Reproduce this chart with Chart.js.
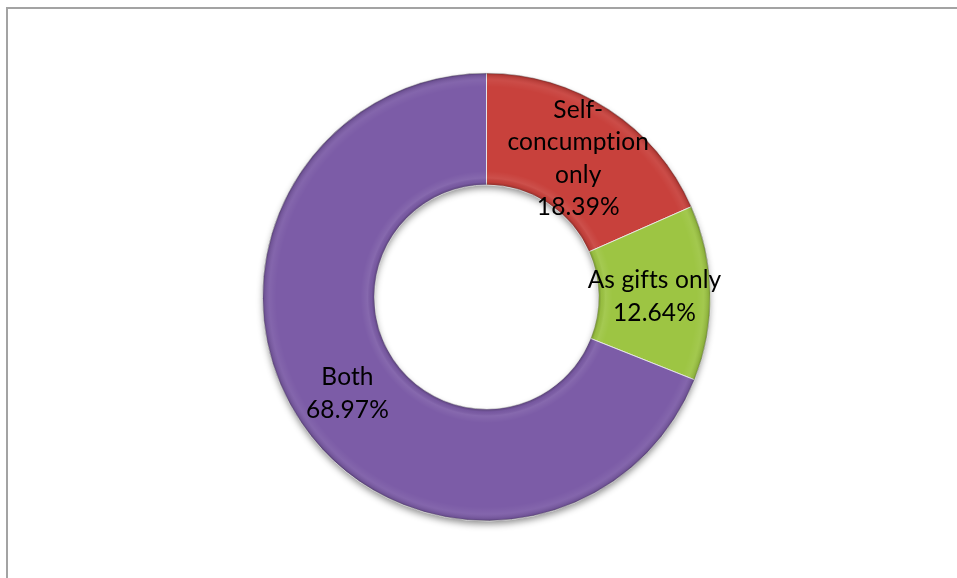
<!DOCTYPE html>
<html lang="en">
<head>
    <meta charset="UTF-8">
    <title>Consumption Purpose</title>
    <script src="https://cdn.jsdelivr.net/npm/chart.js"></script>
    <style>
        html, body { margin: 0; padding: 0; background: #fff; overflow: hidden; }
        #frame {
            position: absolute; left: 6px; top: 7px; width: 1000px; height: 700px;
            border-top: 2px solid #a3a3a3; border-left: 2px solid #a3a3a3;
        }
        #wrap { position: absolute; left: 0; top: 0; width: 957px; height: 578px; }
    </style>
</head>
<body>
    <div id="frame"></div>
    <div id="wrap"><canvas id="donut" width="957" height="578"></canvas></div>

    <script>
        const labels = [['Self-', 'concumption', 'only'], ['As gifts only'], ['Both']];
        const shares = [18.39, 12.64, 68.97];
        const colors = ['#c8413c', '#9dc543', '#7c5ca7'];

        // soft drop shadow under the ring
        const ringShadow = {
            id: 'ringShadow',
            beforeDatasetsDraw(chart) {
                const arc = chart.getDatasetMeta(0).data[0];
                const ctx = chart.ctx;
                ctx.save();
                ctx.shadowColor = 'rgba(0,0,0,0.45)';
                ctx.shadowBlur = 7;
                ctx.shadowOffsetY = 4;
                ctx.beginPath();
                ctx.arc(arc.x, arc.y, arc.outerRadius - 1, 0, Math.PI * 2);
                ctx.arc(arc.x, arc.y, arc.innerRadius + 1, Math.PI * 2, 0, true);
                ctx.fillStyle = '#777';
                ctx.fill();
                ctx.restore();
            }
        };

        // bevel shading on each slice plus the value labels
        const bevel = {
            id: 'bevel',
            afterDatasetsDraw(chart) {
                const ctx = chart.ctx;
                const meta = chart.getDatasetMeta(0);
                meta.data.forEach(arc => {
                    const {x, y, startAngle, endAngle, innerRadius: r0, outerRadius: r1} = arc;
                    ctx.save();
                    ctx.beginPath();
                    ctx.arc(x, y, r1, startAngle, endAngle);
                    ctx.arc(x, y, r0, endAngle, startAngle, true);
                    ctx.closePath();
                    ctx.clip();
                    const g = ctx.createRadialGradient(x, y, r0, x, y, r1);
                    const w = r1 - r0;
                    g.addColorStop(0, 'rgba(0,0,0,0.28)');
                    g.addColorStop(3 / w, 'rgba(0,0,0,0.04)');
                    g.addColorStop(7 / w, 'rgba(255,255,255,0.08)');
                    g.addColorStop(14 / w, 'rgba(255,255,255,0)');
                    g.addColorStop(1 - 14 / w, 'rgba(255,255,255,0)');
                    g.addColorStop(1 - 7 / w, 'rgba(255,255,255,0.06)');
                    g.addColorStop(1 - 2 / w, 'rgba(0,0,0,0.10)');
                    g.addColorStop(1, 'rgba(0,0,0,0.35)');
                    ctx.fillStyle = g;
                    ctx.fillRect(x - r1, y - r1, r1 * 2, r1 * 2);
                    ctx.restore();
                });

                ctx.save();
                ctx.fillStyle = '#000';
                ctx.font = '24.5px Lato, "Liberation Sans", sans-serif';
                ctx.letterSpacing = '0.1px'; // also stops the "ti" ligature
                ctx.textAlign = 'center';
                ctx.textBaseline = 'middle';
                const lh = 32.5;
                meta.data.forEach((arc, i) => {
                    const p = arc.tooltipPosition();
                    const lines = labels[i].concat([shares[i].toFixed(2) + '%']);
                    const top = p.y + 2.5 - (lines.length - 1) * lh / 2;
                    lines.forEach((t, k) => ctx.fillText(t, p.x, top + k * lh));
                });
                ctx.restore();
            }
        };

        new Chart(document.getElementById('donut'), {
            type: 'doughnut',
            data: {
                labels: labels.map(l => l.join(' ')),
                datasets: [{
                    data: shares,
                    backgroundColor: colors,
                    borderColor: 'rgba(235,235,235,0.9)',
                    borderWidth: 1
                }]
            },
            options: {
                responsive: false,
                animation: false,
                events: [],
                radius: 224,
                cutout: '50%',
                layout: { padding: { left: 16, right: 0, top: 16, bottom: 0 } },
                plugins: {
                    legend: { display: false },
                    tooltip: { enabled: false }
                }
            },
            plugins: [ringShadow, bevel]
        });
    </script>
</body>
</html>
